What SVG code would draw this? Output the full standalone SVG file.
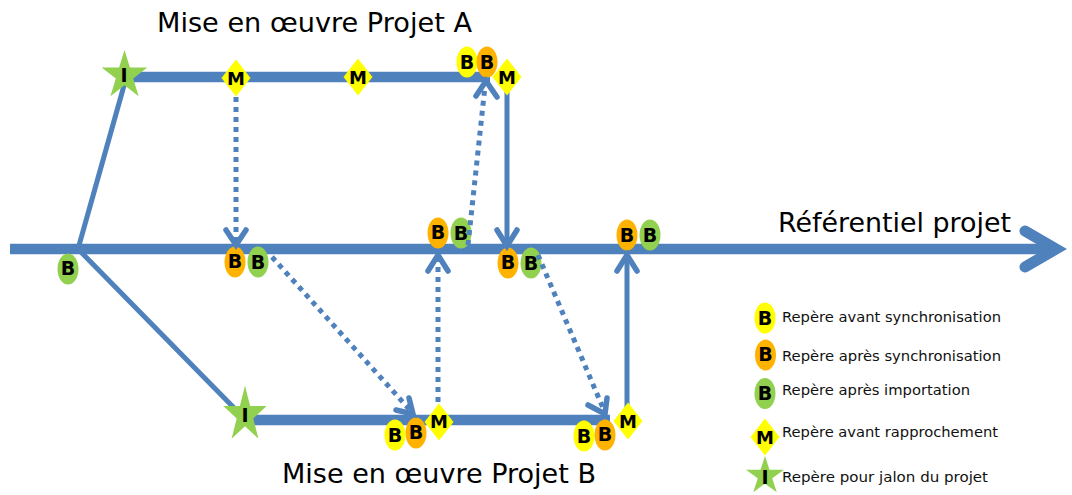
<svg xmlns="http://www.w3.org/2000/svg" xmlns:xlink="http://www.w3.org/1999/xlink" width="1072" height="495" viewBox="0 0 1072 495">
<style>
text{font-family:"DejaVu Sans","Liberation Sans",sans-serif;fill:#000}
.t{font-size:27px}
.l{font-size:14px;fill:#111}
.k{font-size:19px;font-weight:bold;text-anchor:middle}
.m{font-size:18px;font-weight:bold;text-anchor:middle}
.y{fill:#FFFF00}.o{fill:#FFB300}.g{fill:#92D050}
.thick{fill:none;stroke:#4F81BD;stroke-width:10.5}
.line{fill:none;stroke:#4F81BD;stroke-width:5}
.head{fill:none;stroke:#4F81BD;stroke-width:5.5;stroke-linecap:round;stroke-linejoin:miter}
.dot{fill:none;stroke:#4F81BD;stroke-width:5;stroke-dasharray:5 5}
</style>
<defs>
<polygon id="star" points="0,-10 2.245,-3.09 9.51,-3.09 3.63,1.18 5.88,8.09 0,3.82 -5.88,8.09 -3.63,1.18 -9.51,-3.09 -2.245,-3.09" fill="#92D050"/>
<polygon id="dia" points="0,-18.5 14.5,0 0,18.5 -14.5,0" fill="#FFFF00"/>
<ellipse id="e" rx="10.5" ry="15.5"/>
</defs>
<g id="backbone">
<path class="thick" d="M10 249H1054"/>
<path d="M1025 231L1056 249L1025 267" fill="none" stroke="#4F81BD" stroke-width="11" stroke-linecap="round"/>
<path class="thick" d="M130 77H490"/>
<path class="thick" d="M250 420H610"/>
<path class="line" d="M78 249L125 82"/>
<path class="line" d="M78 249L240 414"/>
<path class="line" d="M507 90V245"/>
<path class="line" d="M627 410V256"/>
</g>
<g id="star-a"><use xlink:href="#star" transform="translate(124.5,75.5) scale(2.4,2.55)"/><text class="k" x="124" y="82">I</text></g>
<g id="m-a1"><use xlink:href="#dia" x="236" y="78"/><text class="m" x="236" y="85">M</text></g>
<g id="m-a2"><use xlink:href="#dia" x="358" y="77"/><text class="m" x="358" y="84">M</text></g>
<g id="b-a-y"><use xlink:href="#e" class="y" x="467" y="62"/><text class="k" x="467" y="69">B</text></g>
<g id="b-a-o"><use xlink:href="#e" class="o" x="487" y="62"/><text class="k" x="487" y="69">B</text></g>
<g id="m-a3"><use xlink:href="#dia" x="507" y="77"/><text class="m" x="507" y="84">M</text></g>
<g id="b-g0"><use xlink:href="#e" class="g" x="68" y="269"/><text class="k" x="68" y="275">B</text></g>
<g id="b-o1"><use xlink:href="#e" class="o" x="235" y="262"/><text class="k" x="235" y="268">B</text></g>
<g id="b-g1"><use xlink:href="#e" class="g" x="258" y="262"/><text class="k" x="258" y="269">B</text></g>
<g id="b-o2"><use xlink:href="#e" class="o" x="438" y="233"/><text class="k" x="438" y="239">B</text></g>
<g id="b-g2"><use xlink:href="#e" class="g" x="461" y="233"/><text class="k" x="461" y="240">B</text></g>
<g id="b-o3"><use xlink:href="#e" class="o" x="508" y="263"/><text class="k" x="508" y="269">B</text></g>
<g id="b-g3"><use xlink:href="#e" class="g" x="531" y="263"/><text class="k" x="531" y="270">B</text></g>
<g id="b-o4"><use xlink:href="#e" class="o" x="627" y="235"/><text class="k" x="627" y="242">B</text></g>
<g id="b-g4"><use xlink:href="#e" class="g" x="650" y="235"/><text class="k" x="650" y="242">B</text></g>
<g id="star-b"><use xlink:href="#star" transform="translate(245,415) scale(2.28,2.93)"/><text class="k" x="245" y="422">I</text></g>
<g id="b-b-y1"><use xlink:href="#e" class="y" x="395" y="435"/><text class="k" x="395" y="442">B</text></g>
<g id="b-b-o1"><use xlink:href="#e" class="o" x="416" y="433"/><text class="k" x="416" y="439">B</text></g>
<g id="m-b1"><use xlink:href="#dia" x="439" y="422"/><text class="m" x="439" y="428">M</text></g>
<g id="b-b-y2"><use xlink:href="#e" class="y" x="584" y="436"/><text class="k" x="584" y="443">B</text></g>
<g id="b-b-o2"><use xlink:href="#e" class="o" x="605" y="435"/><text class="k" x="605" y="441">B</text></g>
<g id="m-b2"><use xlink:href="#dia" x="628" y="421"/><text class="m" x="628" y="428">M</text></g>
<g id="connectors">
<path class="dot" d="M236 97V242"/>
<path class="head" d="M226 230L236 245L246 230"/>
<path class="dot" d="M468 245L485 86"/>
<path class="head" d="M476 96L486 81L497 97"/>
<path class="head" d="M497 230L507 246L517 230"/>
<path class="dot" d="M438 402V258"/>
<path class="head" d="M428 271L438 255L448 271"/>
<path class="head" d="M617 271L627 255L637 271"/>
<path class="dot" d="M272 257L410 410"/>
<path class="head" d="M396 410L413 414L409 398"/>
<path class="dot" d="M538 255L603 408"/>
<path class="head" d="M588 405L605 414L607 398"/>
</g>
<text class="t" x="157" y="32" textLength="315" lengthAdjust="spacingAndGlyphs">Mise en œuvre Projet A</text>
<text class="t" x="282" y="483" textLength="314" lengthAdjust="spacingAndGlyphs">Mise en œuvre Projet B</text>
<text class="t" x="778" y="232" textLength="233" lengthAdjust="spacingAndGlyphs">Référentiel projet</text>
<g id="leg1"><use xlink:href="#e" class="y" x="765" y="318"/><text class="k" x="765" y="325">B</text><text class="l" x="782" y="322" textLength="219" lengthAdjust="spacingAndGlyphs">Repère avant synchronisation</text></g>
<g id="leg2"><use xlink:href="#e" class="o" x="765.5" y="355"/><text class="k" x="765.5" y="361">B</text><text class="l" x="782" y="361" textLength="219" lengthAdjust="spacingAndGlyphs">Repère après synchronisation</text></g>
<g id="leg3"><use xlink:href="#e" class="g" x="765" y="393.5"/><text class="k" x="765" y="400">B</text><text class="l" x="782" y="395" textLength="188" lengthAdjust="spacingAndGlyphs">Repère après importation</text></g>
<g id="leg4"><use xlink:href="#dia" x="765" y="437"/><text class="m" x="765" y="444">M</text><text class="l" x="782" y="437" textLength="216" lengthAdjust="spacingAndGlyphs">Repère avant rapprochement</text></g>
<g id="leg5"><use xlink:href="#star" transform="translate(765,476) scale(2,2)"/><text class="k" x="765" y="484">I</text><text class="l" x="782" y="482" textLength="206" lengthAdjust="spacingAndGlyphs">Repère pour jalon du projet</text></g>
</svg>
